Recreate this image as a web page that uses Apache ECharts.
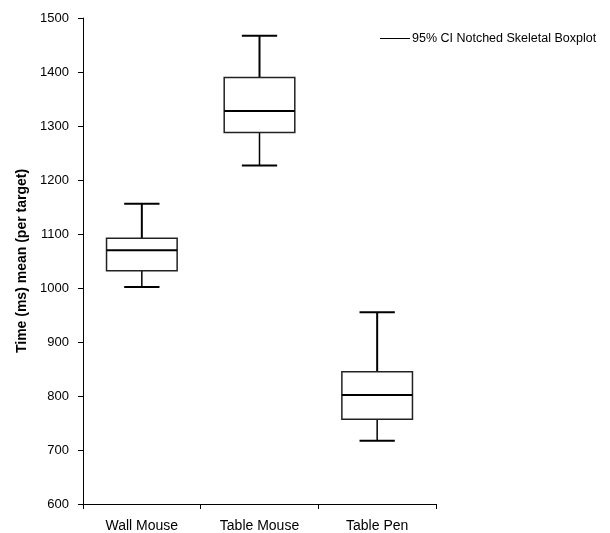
<!DOCTYPE html>
<html>
<head>
<meta charset="utf-8">
<script src="https://cdn.jsdelivr.net/npm/echarts@6/dist/echarts.min.js"></script>
<style>
html,body{margin:0;padding:0;background:#fff;}
#chart{width:610px;height:533px;}
</style>
</head>
<body>
<div id="chart"></div>
<script>
const categories = ['Wall Mouse', 'Table Mouse', 'Table Pen'];
const lowWhisker = [1002, 1227, 717];
const q1 = [1032, 1288, 757];
const median = [1070, 1328, 802];
const q3 = [1092, 1390, 845];
const highWhisker = [1156, 1467, 955];
const yTicks = [600, 700, 800, 900, 1000, 1100, 1200, 1300, 1400, 1500];

const seriesData = categories.map((c, i) => [i, lowWhisker[i], q1[i], median[i], q3[i], highWhisker[i]]);

const chart = echarts.init(document.getElementById('chart'));
chart.setOption({
  animation: false,
  backgroundColor: '#fff',
  textStyle: { fontFamily: 'Liberation Sans, Arial, sans-serif' },
  grid: { left: 83, top: 18, width: 353, height: 486 },
  legend: {
    left: 375, top: 27,
    itemWidth: 30, itemHeight: 1, itemGap: 0,
    icon: 'rect',
    textStyle: { fontSize: 12.5, color: '#000', padding: [0, 0, 0, -3] },
    data: [{ name: '95% CI Notched Skeletal Boxplot', itemStyle: { color: '#000' } }]
  },
  xAxis: {
    type: 'category',
    data: categories,
    boundaryGap: true,
    axisLine: { lineStyle: { color: '#000', width: 1 } },
    axisTick: { show: true, length: 5, lineStyle: { color: '#000' } },
    axisLabel: { color: '#000', fontSize: 14, margin: 15 },
    splitLine: { show: false }
  },
  yAxis: {
    type: 'value',
    min: yTicks[0], max: yTicks[yTicks.length - 1], interval: 100,
    name: 'Time (ms) mean (per target)',
    nameLocation: 'middle',
    nameGap: 54,
    nameTextStyle: { fontWeight: 'bold', fontSize: 14, color: '#000' },
    axisLine: { show: true, lineStyle: { color: '#000', width: 1 } },
    axisTick: { show: true, length: 5, lineStyle: { color: '#000' } },
    axisLabel: { color: '#000', fontSize: 13, margin: 14, formatter: function (v) { return String(v); } },
    splitLine: { show: false }
  },
  series: [{
    type: 'custom',
    name: '95% CI Notched Skeletal Boxplot',
    itemStyle: { color: '#000' },
    data: seriesData,
    encode: { x: 0, y: [1, 2, 3, 4, 5] },
    renderItem: function (params, api) {
      const idx = api.value(0);
      const pLow = api.coord([idx, api.value(1)]);
      const pQ1 = api.coord([idx, api.value(2)]);
      const pMed = api.coord([idx, api.value(3)]);
      const pQ3 = api.coord([idx, api.value(4)]);
      const pHigh = api.coord([idx, api.value(5)]);
      const band = api.size([1, 0])[0];
      const bw = band * 0.6;
      const cw = bw / 2;
      const cx = pMed[0];
      return {
        type: 'group',
        children: [
          { type: 'line', shape: { x1: cx, y1: pQ3[1], x2: cx, y2: pHigh[1] }, style: { stroke: '#000', lineWidth: 2 } },
          { type: 'line', shape: { x1: cx, y1: pQ1[1], x2: cx, y2: pLow[1] }, style: { stroke: '#000', lineWidth: 1.5 } },
          { type: 'line', shape: { x1: cx - cw / 2, y1: pHigh[1], x2: cx + cw / 2, y2: pHigh[1] }, style: { stroke: '#000', lineWidth: 2 } },
          { type: 'line', shape: { x1: cx - cw / 2, y1: pLow[1], x2: cx + cw / 2, y2: pLow[1] }, style: { stroke: '#000', lineWidth: 2 } },
          { type: 'rect', shape: { x: cx - bw / 2, y: pQ3[1], width: bw, height: pQ1[1] - pQ3[1] }, style: { stroke: '#222', lineWidth: 1.5, fill: '#fff' } },
          { type: 'line', shape: { x1: cx - bw / 2, y1: pMed[1], x2: cx + bw / 2, y2: pMed[1] }, style: { stroke: '#000', lineWidth: 2 } }
        ]
      };
    }
  }]
});
</script>
</body>
</html>
